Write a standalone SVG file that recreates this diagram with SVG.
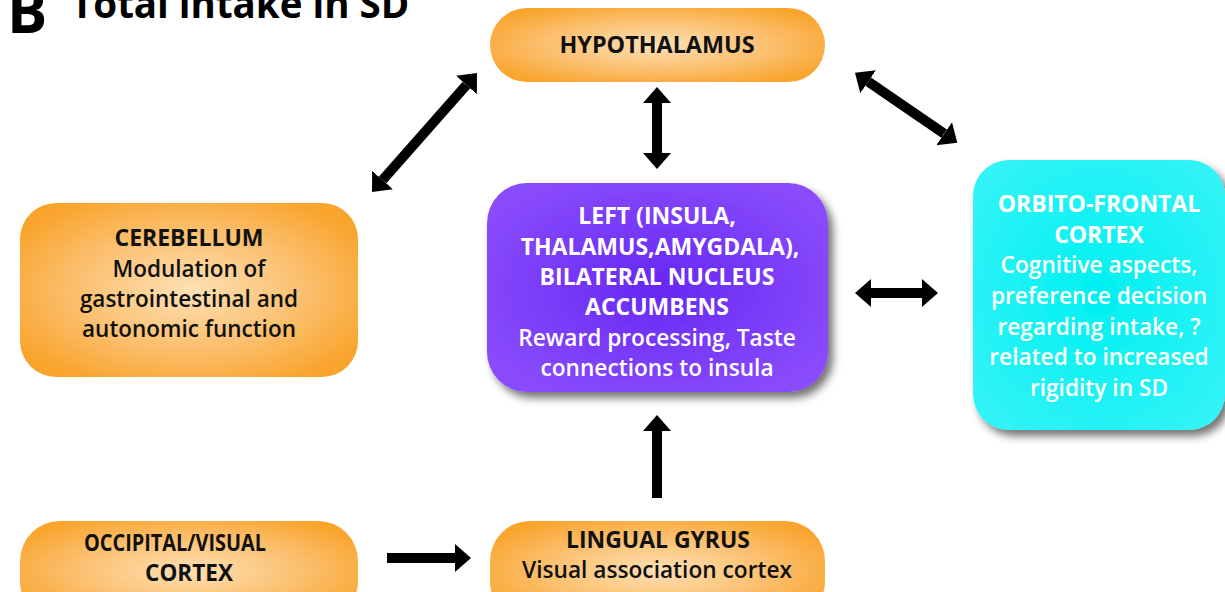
<svg xmlns="http://www.w3.org/2000/svg" width="1225" height="592" viewBox="0 0 1225 592">
<style>
text{font-family:"Open Sans","Liberation Sans",sans-serif;text-anchor:middle;}
.h{font-weight:700;font-size:23px;fill:#111;}
.d{font-weight:600;font-size:22.5px;fill:#111;}
.hw{font-weight:700;font-size:23px;fill:#fff;}
.dw{font-weight:600;font-size:22.7px;fill:#fff;}
.title{font-weight:700;fill:#000;text-anchor:start;}
.orange{fill:url(#gOrange);}
.purple{fill:url(#gPurple);filter:url(#shadow);}
.cyan{fill:url(#gCyan);filter:url(#shadow);}
.arr{stroke:#000;stroke-width:10;fill:none;marker-end:url(#head);}
.arr2{stroke:#000;stroke-width:10;fill:none;marker-end:url(#head);marker-start:url(#headS);}
</style>
<defs>
<radialGradient id="gOrange" cx="50%" cy="50%" r="60%">
<stop offset="0" stop-color="#fde0b4"/>
<stop offset="0.55" stop-color="#fbc070"/>
<stop offset="1" stop-color="#f9a42c"/>
</radialGradient>
<radialGradient id="gPurple" cx="50%" cy="50%" r="60%">
<stop offset="0" stop-color="#6628f2"/>
<stop offset="1" stop-color="#8a4cfc"/>
</radialGradient>
<radialGradient id="gCyan" cx="50%" cy="50%" r="60%">
<stop offset="0" stop-color="#00f0f2"/>
<stop offset="1" stop-color="#30f3f6"/>
</radialGradient>
<filter id="shadow" x="-10%" y="-10%" width="130%" height="130%">
<feDropShadow dx="5" dy="6" stdDeviation="4" flood-color="#000" flood-opacity="0.55"/>
</filter>
<marker id="head" markerUnits="userSpaceOnUse" markerWidth="18" markerHeight="30" viewBox="0 -15 18 30" refX="0" refY="0" orient="auto">
<path d="M0,-14 L16,0 L0,14 Z" fill="#000"/>
</marker>
<marker id="headS" markerUnits="userSpaceOnUse" markerWidth="18" markerHeight="30" viewBox="0 -15 18 30" refX="0" refY="0" orient="auto-start-reverse">
<path d="M0,-14 L16,0 L0,14 Z" fill="#000"/>
</marker>
</defs>
<rect width="1225" height="592" fill="#fff"/>
<g id="title">
<text class="title" x="7" y="33" font-size="60">B</text>
<text class="title" x="71" y="18" font-size="38.5">Total intake in SD</text>
</g>
<g id="connectors">
<line class="arr2" x1="382.6" y1="180" x2="466.4" y2="85"/>
<line class="arr2" x1="657" y1="103" x2="657" y2="153"/>
<line class="arr2" x1="868.2" y1="81.7" x2="944.1" y2="133.7"/>
<line class="arr2" x1="871" y1="293" x2="922" y2="293"/>
<line class="arr" x1="657" y1="498" x2="657" y2="431"/>
<line class="arr" x1="387" y1="558" x2="455" y2="558"/>
</g>
<g id="hypothalamus">
<rect class="orange" x="490" y="8" width="335" height="74" rx="37"/>
<text class="h" x="657" y="53" textLength="195" lengthAdjust="spacingAndGlyphs">HYPOTHALAMUS</text>
</g>
<g id="cerebellum">
<rect class="orange" x="20" y="203" width="338" height="174" rx="36"/>
<text class="h" x="189" y="246">CEREBELLUM</text>
<text class="d" x="189" y="277">Modulation of</text>
<text class="d" x="189" y="307">gastrointestinal and</text>
<text class="d" x="189" y="337">autonomic function</text>
</g>
<g id="reward">
<rect class="purple" x="487" y="183" width="341" height="209" rx="40"/>
<text class="hw" x="657" y="224">LEFT (INSULA,</text>
<text class="hw" x="660" y="255">THALAMUS,AMYGDALA),</text>
<text class="hw" x="657" y="285">BILATERAL NUCLEUS</text>
<text class="hw" x="657" y="315">ACCUMBENS</text>
<text class="dw" x="657" y="346">Reward processing, Taste</text>
<text class="dw" x="657" y="376">connections to insula</text>
</g>
<g id="ofc">
<rect class="cyan" x="973" y="160" width="252" height="270" rx="36"/>
<text class="hw" x="1099" y="212">ORBITO-FRONTAL</text>
<text class="hw" x="1099" y="243">CORTEX</text>
<text class="dw" x="1099" y="273">Cognitive aspects,</text>
<text class="dw" x="1099" y="304">preference decision</text>
<text class="dw" x="1099" y="335">regarding intake, ?</text>
<text class="dw" x="1099" y="365">related to increased</text>
<text class="dw" x="1099" y="396">rigidity in SD</text>
</g>
<g id="occipital">
<rect class="orange" x="20" y="521" width="338" height="100" rx="40"/>
<text class="h" x="175" y="551" textLength="182" lengthAdjust="spacingAndGlyphs">OCCIPITAL/VISUAL</text>
<text class="h" x="189" y="581" textLength="88" lengthAdjust="spacingAndGlyphs">CORTEX</text>
</g>
<g id="lingual">
<rect class="orange" x="490" y="521" width="335" height="100" rx="40"/>
<text class="h" x="658" y="548" textLength="184" lengthAdjust="spacingAndGlyphs">LINGUAL GYRUS</text>
<text class="d" x="657" y="578" textLength="270" lengthAdjust="spacingAndGlyphs">Visual association cortex</text>
</g>
</svg>
